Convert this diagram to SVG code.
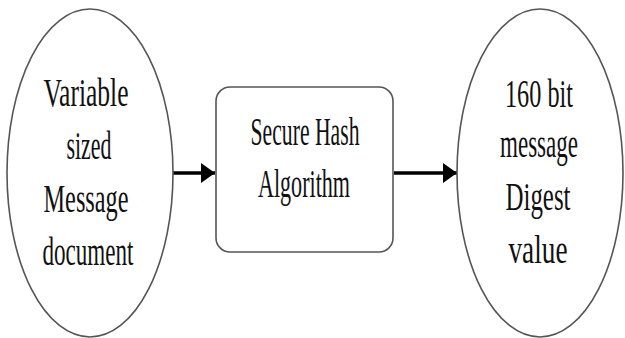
<svg xmlns="http://www.w3.org/2000/svg" width="625" height="338" viewBox="0 0 625 338">
<defs>
<style>
.shape{fill:#fff;stroke:#555;stroke-width:1.6}
.t{font-family:"Liberation Serif","Times New Roman",serif;font-size:39px;fill:#111;text-anchor:middle}
.conn{stroke:#000;stroke-width:3.5;fill:none}
</style>
<marker id="ah" markerWidth="14" markerHeight="20" refX="14" refY="10" orient="auto" markerUnits="userSpaceOnUse">
<path d="M0,0 L14,10 L0,20 Z" fill="#000"/>
</marker>
</defs>
<rect width="625" height="338" fill="#fff"/>
<g id="connectors">
<line class="conn" x1="173" y1="173" x2="215" y2="173" marker-end="url(#ah)"/>
<line class="conn" x1="394" y1="173" x2="457" y2="173" marker-end="url(#ah)"/>
</g>
<g id="input">
<ellipse class="shape" cx="90" cy="173" rx="83" ry="164"/>
<text class="t" x="86" y="106" textLength="85" lengthAdjust="spacingAndGlyphs">Variable</text>
<text class="t" x="89" y="159" textLength="45" lengthAdjust="spacingAndGlyphs">sized</text>
<text class="t" x="86" y="212" textLength="85" lengthAdjust="spacingAndGlyphs">Message</text>
<text class="t" x="88" y="265" textLength="91" lengthAdjust="spacingAndGlyphs">document</text>
</g>
<g id="sha">
<rect class="shape" x="216" y="87" width="177" height="165" rx="14" ry="14"/>
<text class="t" x="305" y="145" textLength="109" lengthAdjust="spacingAndGlyphs">Secure Hash</text>
<text class="t" x="304" y="197" textLength="92" lengthAdjust="spacingAndGlyphs">Algorithm</text>
</g>
<g id="output">
<ellipse class="shape" cx="540" cy="173" rx="83" ry="164"/>
<text class="t" x="539" y="107" textLength="68" lengthAdjust="spacingAndGlyphs">160 bit</text>
<text class="t" x="539" y="157" textLength="78" lengthAdjust="spacingAndGlyphs">message</text>
<text class="t" x="538" y="210" textLength="65" lengthAdjust="spacingAndGlyphs">Digest</text>
<text class="t" x="538" y="263" textLength="59" lengthAdjust="spacingAndGlyphs">value</text>
</g>
</svg>
